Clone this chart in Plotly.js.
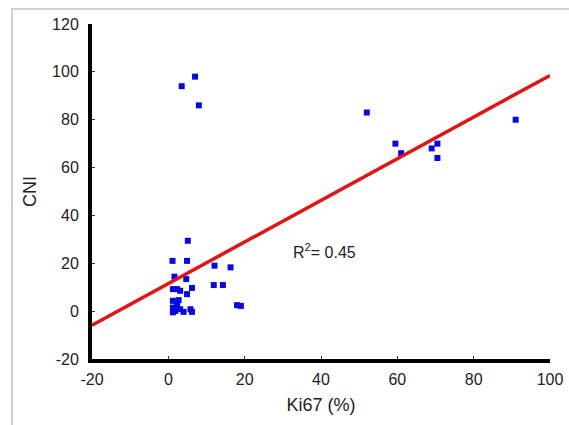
<!DOCTYPE html>
<html>
<head>
<meta charset="utf-8">
<script src="https://cdn.plot.ly/plotly-3.0.1.min.js"></script>
<style>
  html, body { margin: 0; padding: 0; background: #fff; }
  #wrap { position: relative; width: 569px; height: 425px; overflow: hidden; }
  #frame { position: absolute; left: 11px; top: 8px; width: 600px; height: 450px;
           border-top: 2px solid #cfcfcf; border-left: 2px solid #cfcfcf; pointer-events: none; }
  #chart { position: absolute; left: 0; top: 0; width: 569px; height: 425px; }
</style>
</head>
<body>
<div id="wrap">
  <div id="chart"></div>
  <div id="frame"></div>
</div>
<script>
// Ki67 (%) values
const ki67 = [3.5, 7, 8, 52, 59.5, 61, 69, 70.5, 70.5, 91,
              5.1, 1.1, 4.9, 12.1, 16.3, 1.6, 4.7, 11.9, 14.3,
              1.2, 2.3, 3.1, 6.2, 4.9, 2.7, 1.2, 2.3,
              1.2, 1.8, 1.2, 3.1, 4.0, 5.8, 6.2, 18.0, 19.0];
// CNI values
const cni = [94, 98, 86, 83, 70, 66, 68, 70, 64, 80,
             29.4, 21, 21, 19, 18.3, 14.4, 13.4, 10.9, 10.9,
             9.2, 9.2, 8.5, 9.7, 7.1, 4.6, 4.3, 2.5,
             1.5, 0.1, -0.5, 0.8, -0.3, 0.8, -0.3, 2.5, 2.2];
// Fitted regression line
const fitIntercept = 11.5;
const fitSlope = 0.87;
const fitX = [-20, 100];
const fitY = fitX.map(x => fitIntercept + fitSlope * x);
const xTicks = [-20, 0, 20, 40, 60, 80, 100];
const yTicks = [-20, 0, 20, 40, 60, 80, 100, 120];
const r2Text = "R<sup>2</sup>= 0.45";

const font = "Liberation Sans, Arial, sans-serif";

const traces = [
  {
    x: ki67, y: cni, type: "scatter", mode: "markers",
    marker: { symbol: "square", size: 6, color: "#0808e0" },
    cliponaxis: false, showlegend: false
  },
  {
    x: fitX, y: fitY, type: "scatter", mode: "lines",
    line: { color: "#e01515", width: 3.5 },
    showlegend: false
  }
];

const layout = {
  width: 569, height: 425,
  margin: { l: 92, r: 19, t: 24, b: 66 },
  paper_bgcolor: "#ffffff", plot_bgcolor: "#ffffff",
  font: { family: font, size: 16, color: "#222" },
  showlegend: false,
  xaxis: {
    range: [-20, 100], tickvals: xTicks, ticktext: xTicks.map(String),
    showgrid: false, zeroline: false,
    showline: true, linecolor: "#000", linewidth: 4,
    ticks: "inside", ticklen: 3, tickcolor: "#333", tickwidth: 1,
    ticklabelstandoff: 3,
    tickfont: { family: font, size: 16, color: "#222" },
    title: { text: "Ki67 (%)", font: { family: font, size: 18, color: "#222" }, standoff: 12 }
  },
  yaxis: {
    range: [-20, 120], tickvals: yTicks, ticktext: yTicks.map(String),
    showgrid: false, zeroline: false,
    showline: true, linecolor: "#000", linewidth: 4,
    ticks: "inside", ticklen: 3, tickcolor: "#333", tickwidth: 1,
    ticklabelstandoff: 6,
    tickfont: { family: font, size: 16, color: "#222" },
    title: { text: "CNI", font: { family: font, size: 18, color: "#222" }, standoff: 12 }
  },
  annotations: [
    { x: 41, y: 25, xref: "x", yref: "y", text: r2Text, showarrow: false,
      font: { family: font, size: 16, color: "#222" } }
  ]
};

Plotly.newPlot("chart", traces, layout, { displayModeBar: false, staticPlot: true });
</script>
</body>
</html>
